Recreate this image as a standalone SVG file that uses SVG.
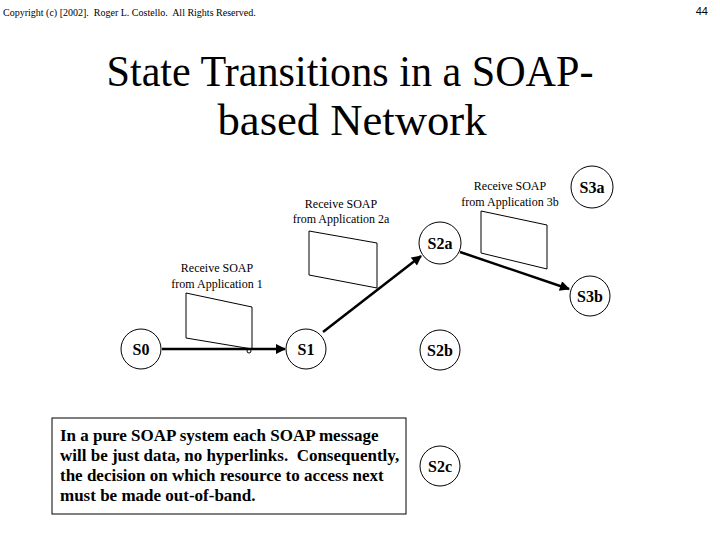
<svg xmlns="http://www.w3.org/2000/svg" width="720" height="540" viewBox="0 0 720 540">
<style>
.st{fill:#fff;stroke:#000;stroke-width:1}
.sl{font-family:"Liberation Serif","Times New Roman",serif;font-size:16px;font-weight:bold;text-anchor:middle;fill:#000}
.lbl{font-family:"Liberation Serif","Times New Roman",serif;font-size:12px;text-anchor:middle;fill:#000}
.flag{fill:none;stroke:#000;stroke-width:1}
.conn{stroke:#000;stroke-width:2.5;fill:none}
.note{font-family:"Liberation Serif","Times New Roman",serif;font-size:17px;font-weight:bold;fill:#000}
</style>
<defs>
<marker id="ah" viewBox="0 0 10 10" refX="9" refY="5" markerWidth="4.5" markerHeight="4" orient="auto" markerUnits="strokeWidth">
<path d="M0,0 L10,5 L0,10 Z" fill="#000"/>
</marker>
</defs>
<rect width="720" height="540" fill="#fff"/>
<text x="3" y="16" xml:space="preserve" font-family="'Liberation Serif','Times New Roman',serif" font-size="10">Copyright (c) [2002].  Roger L. Costello.  All Rights Reserved.</text>
<text x="708" y="15" font-family="'Liberation Sans',Arial,sans-serif" font-size="11" text-anchor="end">44</text>
<g id="title" font-family="'Liberation Serif','Times New Roman',serif" font-size="45" text-anchor="middle">
<text x="350" y="86" textLength="487" lengthAdjust="spacingAndGlyphs">State Transitions in a SOAP-</text>
<text x="352" y="135" textLength="269" lengthAdjust="spacingAndGlyphs">based Network</text>
</g>
<g id="flag1">
<polygon class="flag" points="186,293 252,307 252,349 186,338"/>
<circle cx="249" cy="351" r="2" class="flag"/>
<text class="lbl" x="217" y="272">Receive SOAP</text>
<text class="lbl" x="217" y="288">from Application 1</text>
</g>
<g id="flag2">
<polygon class="flag" points="309,231 377,243 377,288 309,275"/>
<text class="lbl" x="341" y="208">Receive SOAP</text>
<text class="lbl" x="341" y="223">from Application 2a</text>
</g>
<g id="flag3">
<polygon class="flag" points="481,211 547,225 547,269 481,253"/>
<text class="lbl" x="510" y="190">Receive SOAP</text>
<text class="lbl" x="510" y="206">from Application 3b</text>
</g>
<g id="connectors">
<line class="conn" x1="162" y1="349" x2="285" y2="349" marker-end="url(#ah)"/>
<line class="conn" x1="323" y1="332" x2="421" y2="256" marker-end="url(#ah)"/>
<line class="conn" x1="460" y1="252" x2="569" y2="289" marker-end="url(#ah)"/>
</g>
<g id="S0"><circle class="st" cx="141" cy="349" r="20"/><text class="sl" x="141" y="355">S0</text></g>
<g id="S1"><circle class="st" cx="306" cy="349" r="20"/><text class="sl" x="306" y="355">S1</text></g>
<g id="S2a"><circle class="st" cx="440" cy="243" r="21"/><text class="sl" x="440" y="249">S2a</text></g>
<g id="S2b"><circle class="st" cx="440" cy="350" r="20"/><text class="sl" x="440" y="356">S2b</text></g>
<g id="S2c"><circle class="st" cx="440" cy="466" r="20"/><text class="sl" x="440" y="472">S2c</text></g>
<g id="S3a"><circle class="st" cx="592" cy="187" r="21"/><text class="sl" x="592" y="193">S3a</text></g>
<g id="S3b"><circle class="st" cx="590" cy="296" r="20"/><text class="sl" x="590" y="302">S3b</text></g>
<g id="note">
<rect x="52" y="418" width="354" height="96" fill="#fff" stroke="#000" stroke-width="1"/>
<text class="note" x="60" y="441" xml:space="preserve">In a pure SOAP system each SOAP message</text>
<text class="note" x="60" y="461" xml:space="preserve">will be just data, no hyperlinks.  Consequently,</text>
<text class="note" x="60" y="481" xml:space="preserve">the decision on which resource to access next</text>
<text class="note" x="60" y="501" xml:space="preserve">must be made out-of-band.</text>
</g>
</svg>
